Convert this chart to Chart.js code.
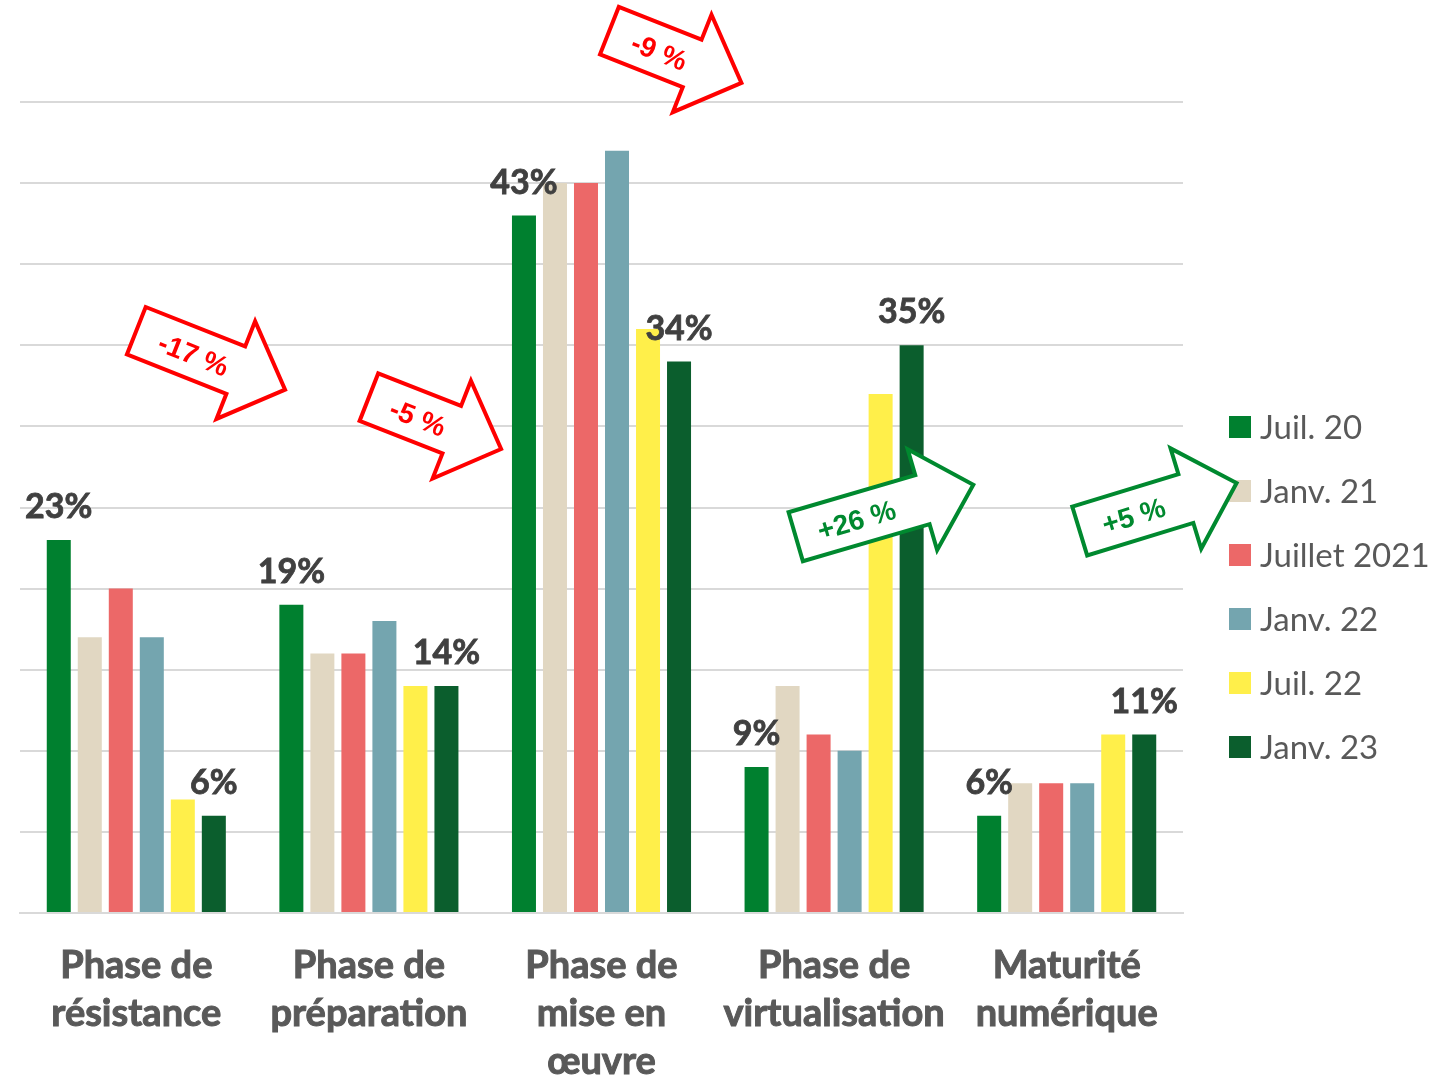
<!DOCTYPE html>
<html><head><meta charset="utf-8">
<script src="https://cdn.jsdelivr.net/npm/chart.js@4.4.1/dist/chart.umd.min.js"></script>
<style>html,body{margin:0;padding:0;background:#fff;}#wrap{width:1453px;height:1077px;}</style>
</head><body><div id="wrap"><canvas id="c" width="1453" height="1077"></canvas></div>
<script>
const categories = [["Phase de","résistance"],["Phase de","préparation"],["Phase de","mise en","œuvre"],["Phase de","virtualisation"],["Maturité","numérique"]];
const seriesNames = ["Juil. 20","Janv. 21","Juillet 2021","Janv. 22","Juil. 22","Janv. 23"];
const juil20      = [23, 19, 43,  9,  6];
const janv21      = [17, 16, 45, 14,  8];
const juillet2021 = [20, 16, 45, 11,  8];
const janv22      = [17, 18, 47, 10,  8];
const juil22      = [ 7, 14, 36, 32, 11];
const janv23      = [ 6, 14, 34, 35, 11];
const yMin = 0, yMax = 50, yStep = 5;

const seriesValues = [juil20, janv21, juillet2021, janv22, juil22, janv23];
const seriesColors = ['#00802F','#E1D7C2','#EC6868','#74A5AF','#FFEF4A','#0B5E2D'];

// annotation arrows (change from first to last survey), anchored on scales
const arrowDefs = [
  {cat:0, dx:0.000, v:35.9, angle:21.6,  len:160, textAt:62, color:'#FF0000'},
  {cat:1, dx:0.000, v:31.8, angle:21.4,  len:142, textAt:53, color:'#FF0000'},
  {cat:2, dx:0.034, v:54.4, angle:21.6,  len:142, textAt:54, color:'#FF0000'},
  {cat:3, dx:-0.165,v:23.2, angle:-16.3, len:185, textAt:63, color:'#00892F'},
  {cat:4, dx:0.056, v:23.55,angle:-17.0, len:164, textAt:56, color:'#00892F'}
];

const valueLabels = {
  id:'valueLabels',
  afterDatasetsDraw(chart){
    const ctx = chart.ctx;
    ctx.save();
    ctx.font = 'bold 34px Lato';
    ctx.fillStyle = '#404040';
    ctx.strokeStyle = '#404040';
    ctx.lineWidth = 0.8;
    ctx.textAlign = 'center';
    ctx.textBaseline = 'alphabetic';
    [0, chart.data.datasets.length-1].forEach(di=>{
      const meta = chart.getDatasetMeta(di);
      meta.data.forEach((el,i)=>{
        const t = chart.data.datasets[di].data[i] + '%';
        ctx.fillText(t, el.x, el.y - 22);
        ctx.strokeText(t, el.x, el.y - 22);
      });
    });
    ctx.restore();
  }
};

const sideLegend = {
  id:'sideLegend',
  afterDraw(chart){
    const ctx = chart.ctx, a = chart.chartArea;
    ctx.save();
    ctx.font = '33px Lato';
    ctx.textBaseline = 'middle';
    ctx.textAlign = 'left';
    chart.data.datasets.forEach((ds,i)=>{
      const cy = a.top + 325 + i*64;
      ctx.fillStyle = ds.backgroundColor;
      ctx.fillRect(a.right + 46, cy - 11, 22, 22);
      ctx.fillStyle = '#595959';
      ctx.fillText(ds.label, a.right + 77, cy + 1);
    });
    ctx.restore();
  }
};

const arrowsPlugin = {
  id:'arrows',
  afterDraw(chart){
    const ctx = chart.ctx;
    const xs = chart.scales.x, ys = chart.scales.y;
    const catW = xs.getPixelForValue(1) - xs.getPixelForValue(0);
    const first = chart.data.datasets[0].data, last = chart.data.datasets[chart.data.datasets.length-1].data;
    arrowDefs.forEach(d=>{
      const x0 = xs.getPixelForValue(d.cat) + d.dx*catW;
      const y0 = ys.getPixelForValue(d.v);
      const diff = last[d.cat] - first[d.cat];
      const txt = (diff>0?'+':'') + diff + ' %';
      const L = d.len, bw = 25.5, hw = 52.5, hl = 53;
      ctx.save();
      ctx.translate(x0, y0);
      ctx.rotate(d.angle*Math.PI/180);
      ctx.beginPath();
      ctx.moveTo(0,-bw); ctx.lineTo(L-hl,-bw); ctx.lineTo(L-hl,-hw); ctx.lineTo(L,0);
      ctx.lineTo(L-hl,hw); ctx.lineTo(L-hl,bw); ctx.lineTo(0,bw); ctx.closePath();
      ctx.fillStyle = '#FFFFFF'; ctx.fill();
      ctx.lineWidth = 4; ctx.lineJoin = 'miter'; ctx.strokeStyle = d.color; ctx.stroke();
      ctx.fillStyle = d.color;
      ctx.font = 'bold 28px "Liberation Sans", Arial, sans-serif';
      ctx.textAlign = 'center'; ctx.textBaseline = 'middle';
      ctx.fillText(txt, d.textAt, 3);
      ctx.restore();
    });
  }
};

new Chart(document.getElementById('c'), {
  type:'bar',
  data:{
    labels: categories,
    datasets: seriesNames.map((n,i)=>({label:n, data:seriesValues[i], backgroundColor:seriesColors[i], borderWidth:0,
      categoryPercentage:0.8, barPercentage:0.774}))
  },
  options:{
    responsive:false, animation:false, devicePixelRatio:1,
    layout:{padding:{left:20, right:270, top:102, bottom:0}},
    plugins:{legend:{display:false}, tooltip:{enabled:false}},
    scales:{
      x:{
        grid:{display:false},
        border:{display:true, color:'#D9D9D9', width:2},
        ticks:{font:{family:'Lato', weight:'bold', size:38, lineHeight:1.263}, color:'#595959',
               textStrokeColor:'#595959', textStrokeWidth:1,
               padding:21, maxRotation:0, autoSkip:false},
        afterFit(s){ s.height = 164; }
      },
      y:{
        min:yMin, max:yMax,
        ticks:{display:false, stepSize:yStep},
        grid:{color:'#D9D9D9', lineWidth:2, drawTicks:false},
        border:{display:false},
        afterFit(s){ s.width = 0; }
      }
    }
  },
  plugins:[valueLabels, sideLegend, arrowsPlugin]
});
</script></body></html>
